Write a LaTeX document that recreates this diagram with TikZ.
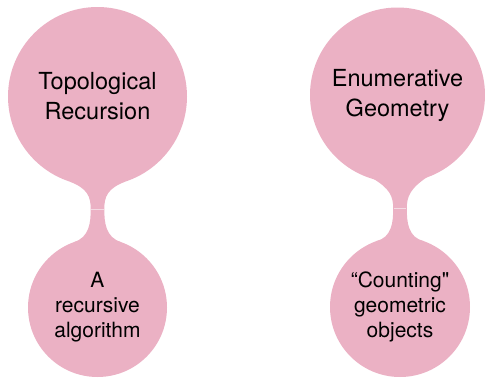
\documentclass[tikz,border=0pt]{standalone}
\usepackage{fontspec}
\setmainfont{TeX Gyre Heros}
\usetikzlibrary{calc}
\definecolor{bubblepink}{RGB}{235,177,196}
\definecolor{seampink}{RGB}{244,218,227}

\begin{document}
\begin{tikzpicture}[x=1pt, y=-1pt]
    \tikzstyle{bigbubble}=[circle, fill=bubblepink, inner sep=0pt, align=center, font=\fontsize{23.5}{30}\selectfont]
    \tikzstyle{smallbubble}=[circle, fill=bubblepink, inner sep=0pt, align=center, font=\fontsize{21}{25}\selectfont]
    \tikzstyle{neck}=[fill=bubblepink]
    \tikzstyle{seam}=[draw=seampink, line width=0.8pt]

    \useasboundingbox (0,0) rectangle (485,378);

    % Topological Recursion
    \node[bigbubble, minimum size=179pt] (topo) at (97.5,96.5) {Topological\\Recursion};
    \node[smallbubble, minimum size=139pt] (algo) at (97.5,307.5) {A\\recursive\\algorithm};

    \fill[neck] ($(topo)+(-28,85)$) .. controls ($(topo)+(-10,92)$) and ($(topo)+(-6.8,100)$) .. ($(topo)+(-6.8,112.5)$)
        .. controls ($(algo)+(-6.8,-85)$) and ($(algo)+(-8,-70)$) .. ($(algo)+(-24,-65.2)$)
        -- ($(algo)+(24,-65.2)$)
        .. controls ($(algo)+(8,-70)$) and ($(algo)+(6.8,-85)$) .. ($(topo)+(6.8,112.5)$)
        .. controls ($(topo)+(6.8,100)$) and ($(topo)+(10,92)$) .. ($(topo)+(28,85)$) -- cycle;
    \draw[seam] ($(topo)+(-6.3,112.5)$) -- ($(topo)+(6.3,112.5)$);

    % Enumerative Geometry
    \node[bigbubble, minimum size=175pt] (enum) at (397.5,95) {Enumerative\\Geometry};
    \node[smallbubble, minimum size=140pt] (count) at (400,307) {“Counting\textquotedbl\\geometric\\objects};

    \fill[neck] ($(enum)+(-25.5,83)$) .. controls ($(enum)+(-7.5,93.5)$) and ($(enum)+(-4.3,101.5)$) .. ($(enum)+(-4.3,113.5)$)
        .. controls ($(count)+(-6.8,-85)$) and ($(count)+(-8,-69.5)$) .. ($(count)+(-24,-65.8)$)
        -- ($(count)+(24,-65.8)$)
        .. controls ($(count)+(8,-69.5)$) and ($(count)+(6.8,-85)$) .. ($(enum)+(9.3,113.5)$)
        .. controls ($(enum)+(9.3,101.5)$) and ($(enum)+(12.5,93.5)$) .. ($(enum)+(30.5,81.5)$) -- cycle;
    \draw[seam] ($(enum)+(-3.8,113.5)$) -- ($(enum)+(8.8,113.5)$);
\end{tikzpicture}
\end{document}
